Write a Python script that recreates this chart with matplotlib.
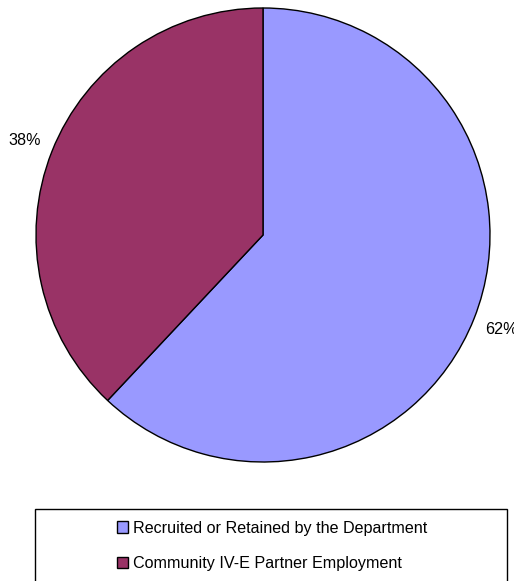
import matplotlib.pyplot as plt
from matplotlib.patches import Rectangle

plt.rcParams['font.family'] = ['Liberation Sans', 'DejaVu Sans']

labels = ["Recruited or Retained by the Department", "Community IV-E Partner Employment"]
shares = [62, 38]
colors = ["#9999FF", "#993366"]

W, H = 514, 581
fig = plt.figure(figsize=(W / 100, H / 100), dpi=100)

# pie centred at (263, 235) px with a 227 px radius
cx, cy, r = 263, 235, 227
ax = fig.add_axes([(cx - r) / W, 1 - (cy + r) / H, 2 * r / W, 2 * r / H])
wedges, _, autotexts = ax.pie(shares, colors=colors, startangle=90, counterclock=False,
                              autopct='%1.0f%%', pctdistance=1.13,
                              wedgeprops=dict(edgecolor='black', linewidth=1))
for t in autotexts:
    t.set_fontsize(11.6)
    t.set_clip_on(False)
ax.set_xlim(-1, 1)
ax.set_ylim(-1, 1)
ax.set_aspect('auto')
ax.axis('off')

# legend frame runs off the bottom of the figure
box = Rectangle((35 / W, -0.05), 472 / W, 0.05 + (H - 509) / H, transform=fig.transFigure,
                facecolor='white', edgecolor='black', linewidth=1)
fig.patches.append(box)
fig.legend(wedges, labels, loc='center', bbox_to_anchor=(272 / W, 1 - 546 / H),
           frameon=False, fontsize=11.6, handlelength=0.7, handleheight=0.7,
           handletextpad=0.3, labelspacing=1.3)

fig.savefig("out.png", dpi=100)
